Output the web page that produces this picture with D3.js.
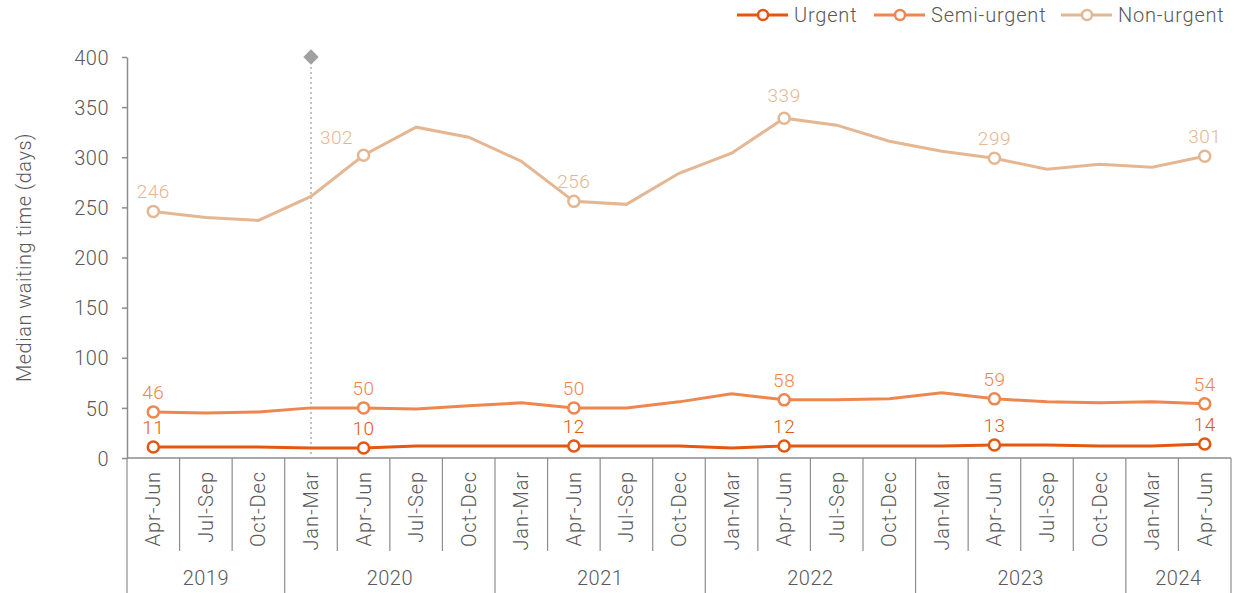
<!DOCTYPE html>
<html>
<head>
<meta charset="utf-8">
<title>Median waiting time</title>
<style>
  body { margin: 0; background: #fff; }
  svg text { font-family: "Roboto", "Liberation Sans", sans-serif; font-weight: 300; letter-spacing: 0.5px; }
  .axis-text { fill: #595959; }
  .cat-text { letter-spacing: 0.9px; }
</style>
</head>
<body>
<svg id="chart" width="1249" height="593"></svg>
<script src="https://cdnjs.cloudflare.com/ajax/libs/d3/7.8.5/d3.min.js"></script>
<script>
// quarters, Apr-Jun 2019 .. Apr-Jun 2024
var periods = ["Apr-Jun", "Jul-Sep", "Oct-Dec",
  "Jan-Mar", "Apr-Jun", "Jul-Sep", "Oct-Dec",
  "Jan-Mar", "Apr-Jun", "Jul-Sep", "Oct-Dec",
  "Jan-Mar", "Apr-Jun", "Jul-Sep", "Oct-Dec",
  "Jan-Mar", "Apr-Jun", "Jul-Sep", "Oct-Dec",
  "Jan-Mar", "Apr-Jun"];
var years = ["2019", "2020", "2021", "2022", "2023", "2024"];
var yearCounts = [3, 4, 4, 4, 4, 2];

var urgent     = [11, 11, 11, 10, 10, 12, 12, 12, 12, 12, 12, 10, 12, 12, 12, 12, 13, 13, 12, 12, 14];
var semiUrgent = [46, 45, 46, 50, 50, 49, 52, 55, 50, 50, 56, 64, 58, 58, 59, 65, 59, 56, 55, 56, 54];
var nonUrgent  = [246, 240, 237, 261, 302, 330, 320, 296, 256, 253, 284, 304, 339, 332, 316, 306, 299, 288, 293, 290, 301];

var yTicks = [0, 50, 100, 150, 200, 250, 300, 350, 400];
var markerIdx = [0, 4, 8, 12, 16, 20];   // Apr-Jun points get markers + labels
var eventIdx = 3;                         // Jan-Mar 2020 marker line

var series = [
  {name: "Urgent", values: urgent, color: "#E5570E"},
  {name: "Semi-urgent", values: semiUrgent, color: "#EE8650"},
  {name: "Non-urgent", values: nonUrgent, color: "#E4B792"}
];

var svg = d3.select("#chart");
var plotLeft = 127, plotRight = 1231, plotTop = 57, plotBottom = 458;

var x = d3.scaleBand().domain(d3.range(periods.length)).range([plotLeft, plotRight]);
var y = d3.scaleLinear().domain([0, 400]).range([plotBottom, plotTop]);
var cx = function(i) { return x(i) + x.bandwidth() / 2; };

// y axis
var yAxis = svg.append("g")
    .attr("transform", "translate(" + plotLeft + ",0)")
    .call(d3.axisLeft(y).tickValues(yTicks).tickSize(5).tickPadding(13).tickSizeOuter(0));
yAxis.select(".domain").attr("stroke", "#8c8c8c").attr("stroke-width", 1.5);
yAxis.selectAll(".tick line").attr("stroke", "#8c8c8c").attr("stroke-width", 1.5);
yAxis.selectAll(".tick text")
    .attr("class", "axis-text")
    .attr("dy", "0.36em")
    .style("font-size", "20px")
    .style("font-family", "Roboto, sans-serif")
    .style("font-weight", 300)
    .attr("fill", "#595959");

svg.append("text")
    .attr("class", "axis-text")
    .attr("transform", "translate(31," + y(200) + ") rotate(-90)")
    .attr("text-anchor", "middle")
    .style("font-size", "20px")
    .text("Median waiting time (days)");

// x axis: line, category separators, year separators
var axisG = svg.append("g");
axisG.append("line")
    .attr("x1", plotLeft).attr("x2", plotRight)
    .attr("y1", plotBottom).attr("y2", plotBottom)
    .attr("stroke", "#8c8c8c").attr("stroke-width", 1.5);

var yearStarts = [0];
yearCounts.forEach(function(c, i) { yearStarts.push(yearStarts[i] + c); });

d3.range(periods.length + 1).forEach(function(i) {
  var px = i < periods.length ? x(i) : plotRight;
  var isYear = yearStarts.indexOf(i) >= 0;
  axisG.append("line")
      .attr("x1", px).attr("x2", px)
      .attr("y1", plotBottom).attr("y2", isYear ? 593 : 551)
      .attr("stroke", "#8c8c8c").attr("stroke-width", 1.2);
});

axisG.selectAll(".cat")
    .data(periods)
    .enter().append("text")
    .attr("class", "axis-text cat-text")
    .attr("transform", function(d, i) { return "translate(" + (cx(i) + 7) + "," + (plotBottom + 13) + ") rotate(-90)"; })
    .attr("text-anchor", "end")
    .style("font-size", "20px")
    .text(function(d) { return d; });

axisG.selectAll(".year")
    .data(years)
    .enter().append("text")
    .attr("class", "axis-text")
    .attr("x", function(d, i) {
      var a = x(yearStarts[i]);
      var b = yearStarts[i + 1] < periods.length ? x(yearStarts[i + 1]) : plotRight;
      return (a + b) / 2;
    })
    .attr("y", 585)
    .attr("text-anchor", "middle")
    .style("font-size", "20px")
    .text(function(d) { return d; });

// event marker
svg.append("line")
    .attr("x1", cx(eventIdx)).attr("x2", cx(eventIdx))
    .attr("y1", y(400)).attr("y2", plotBottom)
    .attr("stroke", "#b0b0b0").attr("stroke-width", 1.5)
    .attr("stroke-dasharray", "2,3");
svg.append("path")
    .attr("d", d3.symbol().type(d3.symbolDiamond2).size(150))
    .attr("transform", "translate(" + cx(eventIdx) + "," + y(400) + ")")
    .attr("fill", "#a0a0a0");

// lines
var line = d3.line()
    .x(function(d, i) { return cx(i); })
    .y(function(d) { return y(d); });

series.slice().reverse().forEach(function(s) {
  var g = svg.append("g");
  g.append("path")
      .datum(s.values)
      .attr("d", line)
      .attr("fill", "none")
      .attr("stroke", s.color)
      .attr("stroke-width", 3);
  g.selectAll("circle")
      .data(markerIdx)
      .enter().append("circle")
      .attr("cx", function(i) { return cx(i); })
      .attr("cy", function(i) { return y(s.values[i]); })
      .attr("r", 5.5)
      .attr("fill", "#fff")
      .attr("stroke", s.color)
      .attr("stroke-width", 2.5);
  g.selectAll(".lbl")
      .data(markerIdx)
      .enter().append("text")
      .attr("x", function(i) { return cx(i) + (s.name === "Non-urgent" && i === 4 ? -27 : 0); })
      .attr("y", function(i) {
        var off = 13;
        if (s.name === "Non-urgent" && i === 4) off = 11;
        if (s.name === "Non-urgent" && i === 12) off = 16;
        return y(s.values[i]) - off;
      })
      .attr("text-anchor", "middle")
      .attr("fill", s.color)
      .style("font-size", "19px")
      .text(function(i) { return s.values[i]; });
});

// legend
var legendX = [737, 874, 1061];
var leg = svg.append("g");
series.forEach(function(s, k) {
  var lx = legendX[k];
  leg.append("line")
      .attr("x1", lx).attr("x2", lx + 51)
      .attr("y1", 15).attr("y2", 15)
      .attr("stroke", s.color).attr("stroke-width", 3);
  leg.append("circle")
      .attr("cx", lx + 26).attr("cy", 15).attr("r", 5)
      .attr("fill", "#fff").attr("stroke", s.color).attr("stroke-width", 2.5);
  leg.append("text")
      .attr("class", "axis-text")
      .attr("x", lx + 57).attr("y", 22)
      .style("font-size", "20px")
      .style("letter-spacing", "0.8px")
      .text(s.name);
});
</script>
</body>
</html>
